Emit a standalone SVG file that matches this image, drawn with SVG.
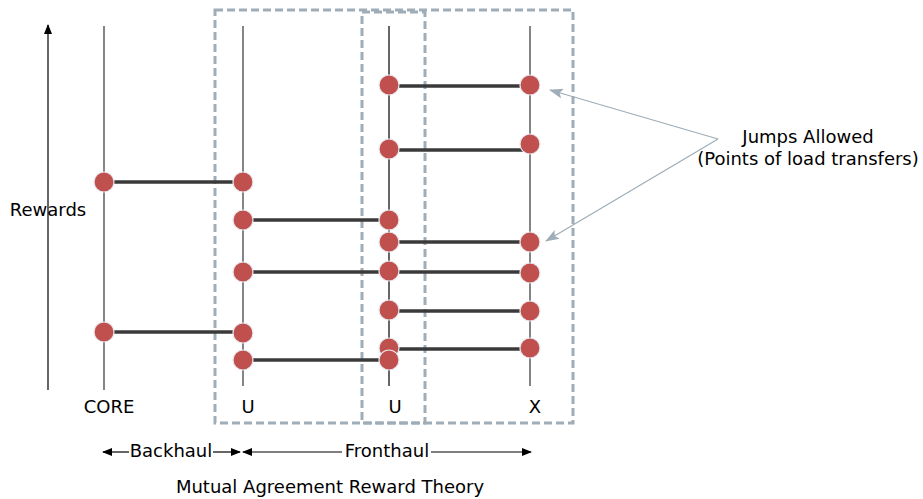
<svg xmlns="http://www.w3.org/2000/svg" width="923" height="499" viewBox="0 0 923 499">
<style>
text{font-family:"DejaVu Sans",Verdana,sans-serif;font-size:18px;fill:#000}
.c{text-anchor:middle}
.v{stroke:#666;stroke-width:1.6}
.h{stroke:#3a3a3a;stroke-width:3.5}
.n{fill:#c0504d;stroke:#e8e8ee;stroke-width:1.2}
.d{fill:none;stroke:#9eadb7;stroke-width:3;stroke-dasharray:8 4}
.a{stroke:#000;stroke-width:1.2;fill:none}
.p{stroke:#9eadb7;stroke-width:1.2;fill:none}
</style>
<defs>
<marker id="ah" markerWidth="10" markerHeight="8" refX="9" refY="4" orient="auto" markerUnits="userSpaceOnUse"><path d="M0,0L10,4L0,8z" fill="#000"/></marker>
<marker id="ag" markerWidth="14" markerHeight="10" refX="13" refY="5" orient="auto" markerUnits="userSpaceOnUse"><path d="M0,0L14,5L0,10L3,5z" fill="#9eadb7"/></marker>
</defs>
<rect x="0" y="0" width="923" height="499" fill="#fff"/>
<g id="regions">
<rect class="d" x="215" y="10" width="358" height="413"/>
<rect class="d" x="362" y="12" width="63" height="411"/>
</g>
<g id="axis">
<line class="a" x1="48" y1="390" x2="48" y2="25" marker-end="url(#ah)"/>
<text class="c" x="48" y="216">Rewards</text>
</g>
<g id="lanes">
<line class="v" x1="104" y1="26" x2="104" y2="390"/>
<line class="v" x1="243" y1="26" x2="243" y2="386"/>
<line x1="389" y1="26" x2="389" y2="386" stroke="#000" stroke-width="1.2"/>
<line class="v" x1="530" y1="26" x2="530" y2="386"/>
</g>
<g id="connectors">
<line class="h" x1="104" y1="182" x2="243" y2="182"/>
<line class="h" x1="104" y1="332" x2="243" y2="332"/>
<line class="h" x1="243" y1="220" x2="389" y2="220"/>
<line class="h" x1="243" y1="272" x2="530" y2="272"/>
<line class="h" x1="243" y1="360" x2="389" y2="360"/>
<line class="h" x1="389" y1="86" x2="530" y2="86"/>
<line class="h" x1="389" y1="150" x2="525" y2="150"/>
<line class="h" x1="389" y1="242" x2="530" y2="242"/>
<line class="h" x1="389" y1="311" x2="530" y2="311"/>
<line class="h" x1="389" y1="349" x2="530" y2="349"/>
<line class="p" x1="718" y1="139" x2="550" y2="90" marker-end="url(#ag)"/>
<line class="p" x1="718" y1="139" x2="546" y2="241" marker-end="url(#ag)"/>
</g>
<g id="core-nodes">
<circle class="n" cx="104" cy="182" r="10"/>
<circle class="n" cx="104" cy="332" r="10"/>
</g>
<g id="u1-nodes">
<circle class="n" cx="243" cy="182" r="10"/>
<circle class="n" cx="243" cy="220" r="10"/>
<circle class="n" cx="243" cy="272" r="10"/>
<circle class="n" cx="243" cy="333" r="10"/>
<circle class="n" cx="243" cy="360" r="10"/>
</g>
<g id="u2-nodes">
<circle class="n" cx="389" cy="85" r="10"/>
<circle class="n" cx="389" cy="149" r="10"/>
<circle class="n" cx="389" cy="220" r="10"/>
<circle class="n" cx="389" cy="242" r="10"/>
<circle class="n" cx="389" cy="271" r="10"/>
<circle class="n" cx="389" cy="310" r="10"/>
<circle class="n" cx="389" cy="348" r="10"/>
<circle class="n" cx="389" cy="360" r="10"/>
</g>
<g id="x-nodes">
<circle class="n" cx="530" cy="85" r="10"/>
<circle class="n" cx="530" cy="144" r="10"/>
<circle class="n" cx="530" cy="242" r="10"/>
<circle class="n" cx="530" cy="273" r="10"/>
<circle class="n" cx="530" cy="311" r="10"/>
<circle class="n" cx="530" cy="348" r="10"/>
</g>
<g id="labels">
<text class="c" x="109" y="413">CORE</text>
<text class="c" x="248" y="413">U</text>
<text class="c" x="395" y="413">U</text>
<text class="c" x="535" y="413">X</text>
<text class="c" x="808" y="143">Jumps Allowed</text>
<text class="c" x="808" y="165">(Points of load transfers)</text>
<text class="c" x="330" y="493">Mutual Agreement Reward Theory</text>
</g>
<g id="spans">
<line class="a" x1="129" y1="452" x2="103" y2="452" marker-end="url(#ah)"/>
<text class="c" x="171" y="457">Backhaul</text>
<line class="a" x1="213" y1="452" x2="240" y2="452" marker-end="url(#ah)"/>
<line class="a" x1="342" y1="452" x2="243" y2="452" marker-end="url(#ah)"/>
<text class="c" x="387" y="457">Fronthaul</text>
<line class="a" x1="431" y1="452" x2="531" y2="452" marker-end="url(#ah)"/>
</g>
</svg>
